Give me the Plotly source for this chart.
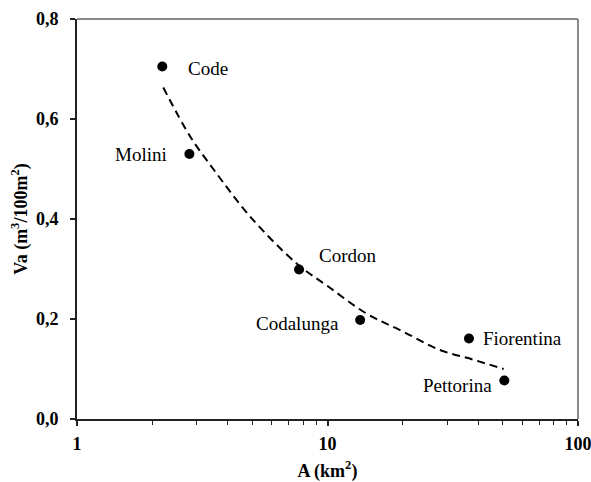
import plotly.graph_objects as go
import math

# Data
names = ["Code", "Molini", "Cordon", "Codalunga", "Fiorentina", "Pettorina"]
area_km2 = [2.19, 2.81, 7.7, 13.5, 36.7, 50.8]
va = [0.705, 0.530, 0.299, 0.198, 0.161, 0.077]

# Dashed trend curve
trend_x = [2.21, 2.83, 3.5, 4.91, 7.53, 10, 14.3, 20, 28.1, 38, 50.5]
trend_y = [0.663, 0.565, 0.50, 0.405, 0.311, 0.266, 0.211, 0.175, 0.138, 0.119, 0.100]

# label placement: (xanchor, xshift, yshift)
label_pos = {
    "Code": ("left", 24, -2),
    "Molini": ("right", -20, 0),
    "Cordon": ("left", 18, 14),
    "Codalunga": ("right", -19, -3),
    "Fiorentina": ("left", 12, 0),
    "Pettorina": ("right", -10, -5),
}

font_serif = "Liberation Serif"

fig = go.Figure()
fig.add_trace(go.Scatter(
    x=trend_x, y=trend_y, mode="lines",
    line=dict(color="black", width=2, dash="8px,5px", shape="spline"),
    hoverinfo="skip", showlegend=False))
fig.add_trace(go.Scatter(
    x=area_km2, y=va, mode="markers",
    marker=dict(color="black", size=10),
    showlegend=False))

for n, xv, yv in zip(names, area_km2, va):
    anc, xs, ys = label_pos[n]
    fig.add_annotation(x=math.log10(xv), y=yv, text=n, showarrow=False,
                       xanchor=anc, yanchor="middle", xshift=xs, yshift=ys,
                       font=dict(family=font_serif, size=19, color="black"))

# top and right frame lines (gray)
fig.add_shape(type="line", xref="paper", yref="paper", x0=0, x1=1, y0=1, y1=1,
              line=dict(color="#8a8a8a", width=2))
fig.add_shape(type="line", xref="paper", yref="paper", x0=1, x1=1, y0=0, y1=1,
              line=dict(color="#8a8a8a", width=2))

minor_vals = [2, 3, 4, 5, 6, 7, 8, 9, 20, 30, 40, 50, 60, 70, 80, 90]

fig.update_layout(
    width=591, height=482,
    margin=dict(l=77, r=13, t=19, b=63),
    paper_bgcolor="white", plot_bgcolor="white",
    separators=",.",
    font=dict(family=font_serif, color="black"),
    xaxis=dict(
        type="log", range=[0, 2], automargin=False,
        tickvals=[1, 10, 100], ticktext=["1", "10", "100"],
        ticklabeloverflow="allow", ticklabelstandoff=2,
        ticks="outside", ticklen=5, tickwidth=1.5, tickcolor="#222",
        minor=dict(tickvals=minor_vals, ticks="outside", ticklen=4, tickwidth=1, tickcolor="#222"),
        showline=True, linecolor="#222", linewidth=2,
        showgrid=False, zeroline=False,
        tickfont=dict(family=font_serif, size=18, color="black", weight="bold"),
        title=dict(text="<b>A (km<sup>2</sup>)</b>", standoff=14,
                   font=dict(family=font_serif, size=18, color="black")),
    ),
    yaxis=dict(
        range=[0, 0.8], tickvals=[0, 0.2, 0.4, 0.6, 0.8], tickformat=".1f",
        automargin=False, ticklabelstandoff=8,
        ticks="outside", ticklen=5, tickwidth=1.5, tickcolor="#222",
        showline=True, linecolor="#222", linewidth=2,
        showgrid=False, zeroline=False,
        tickfont=dict(family=font_serif, size=18, color="black", weight="bold"),
        title=dict(text="<b>Va (m<sup>3</sup>/100m<sup>2</sup>)</b>", standoff=4,
                   font=dict(family=font_serif, size=18, color="black")),
    ),
)

# remove the default page margin so the figure fills the window exactly
fig.write_html("out.html", config={"displayModeBar": False},
               post_script="document.body.style.margin='0';")
